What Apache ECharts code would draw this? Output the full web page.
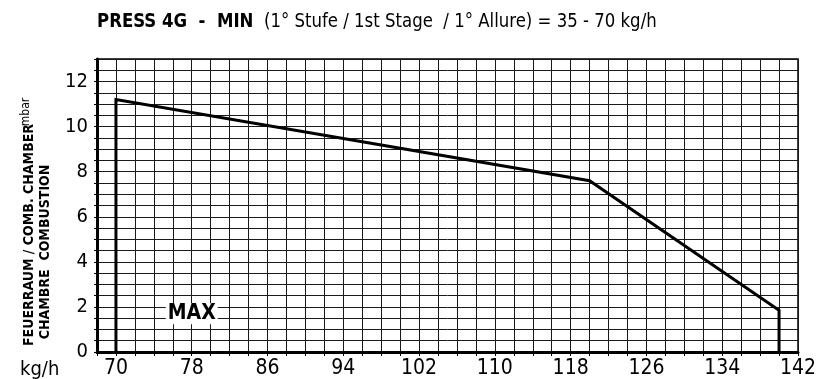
<!DOCTYPE html>
<html>
<head>
<meta charset="utf-8">
<script src="https://cdn.jsdelivr.net/npm/echarts@6/dist/echarts.min.js"></script>
<style>
html,body{margin:0;padding:0;background:#fff;}
#c{width:821px;height:379px;}
</style>
</head>
<body>
<div id="c"></div>
<script>
// ---- data ----
const curveX = [70, 70, 120, 140, 140];
const curveY = [0, 11.2, 7.6, 1.85, 0];
const xTickLabels = [70, 78, 86, 94, 102, 110, 118, 126, 134, 142];
const yTickLabels = [0, 2, 4, 6, 8, 10, 12];
const maxLabelAt = [78, 1.7];

const FONT = '"Liberation Sans Narrow", "DejaVu Sans Condensed", "Arial Narrow", sans-serif';
const curve = curveX.map((x, i) => [x, curveY[i]]);

const chart = echarts.init(document.getElementById('c'), null, {renderer: 'canvas'});
chart.setOption({
  animation: false,
  backgroundColor: '#fff',
  grid: {left: 97, top: 59, right: 23, bottom: 26, show: true, borderColor: '#000', borderWidth: 1.5, backgroundColor: 'transparent'},
  xAxis: {
    type: 'value', min: 68, max: 142, interval: 2,
    axisLine: {show: true, lineStyle: {color: '#000', width: 3}},
    axisTick: {show: true, length: 4, lineStyle: {color: '#000', width: 1}},
    splitLine: {show: true, lineStyle: {color: '#1a1a1a', width: 1}},
    axisLabel: {
      color: '#000', fontFamily: FONT, fontSize: 21, margin: 6,
      showMinLabel: true, showMaxLabel: true, hideOverlap: false,
      formatter: v => xTickLabels.includes(v) ? String(v) : ''
    }
  },
  yAxis: {
    type: 'value', min: 0, max: 13, interval: 0.5,
    axisLine: {show: true, lineStyle: {color: '#000', width: 3}},
    axisTick: {show: true, length: 3, lineStyle: {color: '#000', width: 1}},
    splitLine: {show: true, lineStyle: {color: '#1a1a1a', width: 1}},
    axisLabel: {
      color: '#000', fontFamily: FONT, fontSize: 20, margin: 9,
      showMinLabel: true, hideOverlap: false,
      formatter: v => yTickLabels.includes(v) ? String(v) : ''
    }
  },
  series: [
    {
      type: 'line', data: curve, showSymbol: false, symbol: 'none',
      lineStyle: {color: '#000', width: 3, join: 'miter'}, z: 5
    },
    {
      type: 'scatter', data: [maxLabelAt], symbolSize: 0, z: 6,
      itemStyle: {opacity: 1},
      emphasis: {disabled: true},
      label: {
        show: true, position: 'inside', formatter: 'MAX', opacity: 1,
        fontFamily: FONT, fontWeight: 'bold', fontSize: 21, color: '#000',
        backgroundColor: '#fff', padding: [0, 2, 0, 2]
      }
    }
  ],
  graphic: [
    {type: 'text', x: 97, y: 22, scaleX: 0.92,
     style: {
       text: '{b|PRESS 4G  -  MIN}{n|  (1° Stufe / 1st Stage  / 1° Allure) = 35 - 70 kg/h}',
       align: 'left', verticalAlign: 'middle',
       rich: {
         b: {font: 'bold 20px ' + FONT, fill: '#000'},
         n: {font: '20px ' + FONT, fill: '#000'}
       }
     }},
    {type: 'text', x: 29, y: 235, rotation: Math.PI / 2,
     style: {text: 'FEUERRAUM / COMB. CHAMBER', font: 'bold 14px ' + FONT, fill: '#000', align: 'center', verticalAlign: 'middle'}},
    {type: 'text', x: 26, y: 112, rotation: Math.PI / 2,
     style: {text: 'mbar', font: '12px ' + FONT, fill: '#000', align: 'center', verticalAlign: 'middle'}},
    {type: 'text', x: 45, y: 252, rotation: Math.PI / 2,
     style: {text: 'CHAMBRE  COMBUSTION', font: 'bold 14px ' + FONT, fill: '#000', align: 'center', verticalAlign: 'middle'}},
    {type: 'text', x: 20, y: 360,
     style: {text: 'kg/h', font: '20px ' + FONT, fill: '#000', align: 'left', verticalAlign: 'top'}}
  ]
});
</script>
</body>
</html>
